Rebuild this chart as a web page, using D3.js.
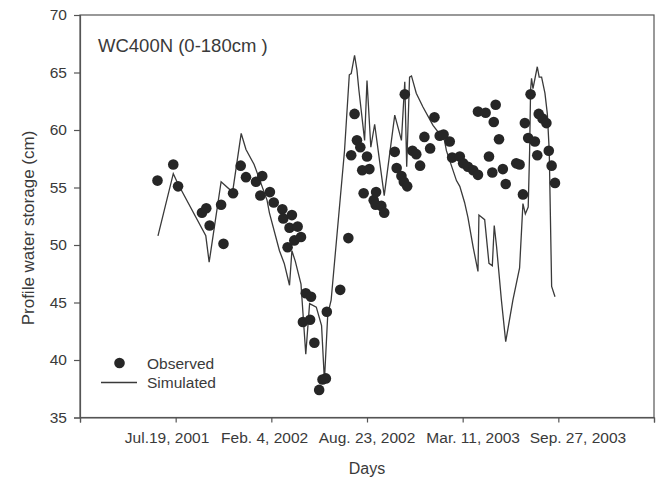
<!DOCTYPE html>
<html>
<head>
<meta charset="utf-8">
<script src="https://cdn.jsdelivr.net/npm/d3@7"></script>
<style>
  body { margin: 0; background: #fff; }
  text { font-family: "Liberation Sans", Arial, sans-serif; fill: #3a3a3a; }
</style>
</head>
<body>
<div id="chart"></div>
<script>
// Days counted from Dec 31, 2000 (Jul.19, 2001 = day 200)
const obsDays = [162, 195, 205, 255, 264, 271, 295, 300, 320, 336, 347, 368, 377, 381, 397, 405,
  423, 425, 434, 438, 443, 448, 455, 462, 466, 472, 481, 483, 490, 500, 507, 514, 516, 544,
  561, 567, 574, 579, 586, 590, 593, 600, 605, 614, 618, 619, 630, 636, 658, 662, 672, 677,
  679, 684, 695, 703, 711, 720, 732, 741, 752, 760, 773, 778, 794, 801, 811, 822, 832, 832,
  848, 855, 862, 865, 869, 876, 884, 890, 912, 919, 926, 930, 937, 942, 951, 956, 959, 967,
  975, 980, 986, 993];
const obsValues = [55.6, 57.0, 55.1, 52.8, 53.2, 51.7, 53.5, 50.1, 54.5, 56.9, 55.9, 55.5, 54.3, 56.0, 54.6, 53.7,
  53.1, 52.3, 49.8, 51.5, 52.6, 50.4, 51.6, 50.7, 43.3, 45.8, 43.5, 45.5, 41.5, 37.4, 38.3, 38.4, 44.2, 46.1,
  50.6, 57.8, 61.4, 59.1, 58.5, 56.5, 54.5, 57.7, 56.6, 53.9, 53.5, 54.6, 53.4, 52.8, 58.1, 56.7, 56.0, 55.5,
  63.1, 55.1, 58.2, 57.9, 56.9, 59.4, 58.4, 61.1, 59.5, 59.6, 59.0, 57.6, 57.7, 57.1, 56.8, 56.5, 56.1, 61.6,
  61.5, 57.7, 56.3, 60.7, 62.2, 59.2, 56.6, 55.3, 57.1, 57.0, 54.4, 60.6, 59.3, 63.1, 59.0, 57.8, 61.4, 61.0,
  60.6, 58.2, 56.9, 55.4];

const simDays = [163, 195, 205, 263, 270, 295, 319, 337, 347, 364, 391, 396, 417, 427, 438, 443, 450, 462,
  472, 480, 494, 505, 511, 518, 525, 553, 563, 567, 574, 579, 583, 595, 600, 608, 616, 636, 658, 672,
  679, 683, 689, 693, 703, 717, 738, 762, 766, 787, 794, 804, 811, 822, 832, 834, 846, 855, 862, 866,
  871, 881, 890, 905, 919, 926, 931, 937, 940, 942, 944, 947, 956, 960, 965, 972, 977, 981, 986, 993];
const simValues = [50.8, 56.2, 55.3, 50.8, 48.5, 55.5, 54.6, 59.7, 58.3, 57.0, 53.9, 52.8, 49.5, 48.4, 46.5, 49.5, 48.6, 46.6,
  40.5, 44.9, 44.6, 43.0, 38.2, 44.0, 45.2, 58.2, 64.8, 64.9, 66.5, 65.2, 63.5, 59.1, 64.3, 58.5, 60.5, 54.3, 61.3, 59.1,
  64.2, 56.8, 64.6, 64.7, 63.2, 62.0, 60.4, 59.1, 58.2, 55.6, 55.1, 53.7, 52.4, 49.8, 47.7, 52.6, 52.2, 48.4, 48.2, 51.7,
  49.8, 45.2, 41.6, 45.2, 48.0, 53.6, 52.7, 53.3, 58.2, 63.5, 64.5, 63.6, 65.5, 64.6, 64.6, 63.2, 61.4, 58.2, 46.4, 45.5];

const xTickDays = [0, 200, 400, 600, 800, 1000, 1200];
const xLabels = ['Jul.19, 2001', 'Feb. 4, 2002', 'Aug. 23, 2002', 'Mar. 11, 2003', 'Sep. 27, 2003'];
const xLabelDays = [182, 386, 600, 822, 1041]; // where the labels sit in the original
const yTicks = [35, 40, 45, 50, 55, 60, 65, 70];

const W = 657, H = 478;
const m = { left: 80, right: 3, top: 15, bottom: 60.5 };

const svg = d3.select('#chart').append('svg')
  .attr('width', W).attr('height', H);

const x = d3.scaleLinear().domain([0, 1200]).range([m.left, W - m.right]);
const y = d3.scaleLinear().domain([35, 70]).range([H - m.bottom, m.top]);

const axisColor = '#555';

// frame (top & right)
svg.append('rect')
  .attr('x', x(0)).attr('y', y(70))
  .attr('width', x(1200) - x(0)).attr('height', y(35) - y(70))
  .attr('fill', 'none').attr('stroke', axisColor).attr('stroke-width', 1.2);

// y axis
const yAxis = svg.append('g')
  .attr('transform', `translate(${x(0)},0)`)
  .call(d3.axisLeft(y).tickValues(yTicks).tickSize(6).tickPadding(7));
yAxis.selectAll('text').style('font-size', '15.5px').attr('fill', '#3a3a3a');

// x axis
const xAxis = svg.append('g')
  .attr('transform', `translate(0,${y(35)})`)
  .call(d3.axisBottom(x).tickValues(xTickDays).tickSize(5).tickFormat(''));

[yAxis, xAxis].forEach(g => {
  g.select('.domain').attr('stroke', axisColor).attr('stroke-width', 1.2);
  g.selectAll('.tick line').attr('stroke', axisColor).attr('stroke-width', 1.2);
});

svg.append('g').selectAll('text')
  .data(xLabels)
  .join('text')
  .attr('x', (d, i) => x(xLabelDays[i]))
  .attr('y', y(35) + 25)
  .attr('text-anchor', 'middle')
  .style('font-size', '15.5px')
  .text(d => d);

// simulated line
const line = d3.line()
  .x((d, i) => x(simDays[i]))
  .y(d => y(d));

svg.append('path')
  .datum(simValues)
  .attr('d', line)
  .attr('fill', 'none')
  .attr('stroke', '#3a3a3a')
  .attr('stroke-width', 1.3);

// observed points
svg.append('g').selectAll('circle')
  .data(obsValues)
  .join('circle')
  .attr('cx', (d, i) => x(obsDays[i]))
  .attr('cy', d => y(d))
  .attr('r', 5.3)
  .attr('fill', '#262626');

// title
svg.append('text')
  .attr('x', 98).attr('y', 52)
  .style('font-size', '18.5px')
  .text('WC400N (0-180cm )');

// legend
svg.append('circle').attr('cx', 119.5).attr('cy', 363).attr('r', 5.3).attr('fill', '#262626');
svg.append('text').attr('x', 147).attr('y', 368.5).style('font-size', '15.5px').text('Observed');
svg.append('line').attr('x1', 101).attr('x2', 137).attr('y1', 382.5).attr('y2', 382.5)
  .attr('stroke', '#3a3a3a').attr('stroke-width', 1.3);
svg.append('text').attr('x', 147).attr('y', 388).style('font-size', '15.5px').text('Simulated');

// axis titles
svg.append('text')
  .attr('x', (x(0) + x(1200)) / 2).attr('y', 474)
  .attr('text-anchor', 'middle')
  .style('font-size', '16px')
  .text('Days');

svg.append('text')
  .attr('transform', 'translate(34,228) rotate(-90)')
  .attr('text-anchor', 'middle')
  .style('font-size', '17px')
  .text('Profile water storage (cm)');
</script>
</body>
</html>
